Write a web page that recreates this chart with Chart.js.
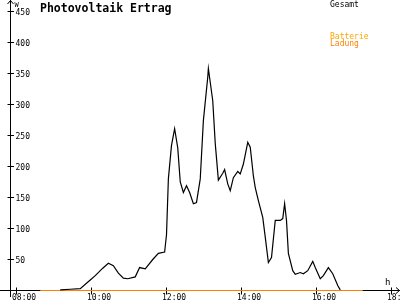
<!DOCTYPE html>
<html>
<head>
<meta charset="utf-8">
<script src="https://cdn.jsdelivr.net/npm/chart.js@4"></script>
<style>
html,body{margin:0;padding:0;background:#fff;}
#wrap{width:400px;height:300px;position:relative;}
</style>
</head>
<body>
<div id="wrap"><canvas id="c" width="400" height="300"></canvas></div>
<script>
// ---- data ----
const chartTitle = "Photovoltaik Ertrag";
const gesamtLabel = "Gesamt";
const ladungLabel = ["Batterie", "Ladung"];
const xUnit = "h";
const yUnit = "W";

const gesamtTimes = ["09:10","09:26","09:42","09:58","10:06","10:18","10:27","10:35","10:43","10:51","10:58","11:10","11:17","11:26","11:38","11:47","11:57","12:00","12:03","12:08","12:13","12:18","12:22","12:27","12:32","12:37","12:43","12:48","12:54","12:59","13:06","13:07","13:14","13:18","13:23","13:30","13:33","13:38","13:42","13:47","13:54","13:58","14:03","14:10","14:14","14:19","14:22","14:27","14:34","14:38","14:43","14:48","14:54","15:02","15:06","15:09","15:12","15:15","15:22","15:26","15:34","15:39","15:46","15:54","15:58","16:06","16:11","16:19","16:26","16:34","16:38"];
const gesamtValues = [1,2,3,17,24,36,44,40,28,20,19,22,37,35,50,60,62,90,180,234,261,230,175,158,169,158,140,142,180,274,344,358,306,237,178,189,195,172,161,182,192,188,204,239,231,185,166,145,118,86,45,53,113,113,116,140,113,60,32,26,29,27,32,47,37,19,24,37,27,8,1];

const ladungTimes = ["08:38","17:14"];
const ladungValues = [0,0];

const xTickLabels = ["08:00","10:00","12:00","14:00","16:00","18:00"];
const yTickLabels = [50,100,150,200,250,300,350,400,450];

// ---- helpers ----
function toMin(t){ const p=t.split(":"); return (+p[0])*60 + (+p[1]); }
const gesamtData = gesamtTimes.map((t,i)=>({x:toMin(t), y:gesamtValues[i]}));
const ladungData = ladungTimes.map((t,i)=>({x:toMin(t), y:ladungValues[i]}));

const MONO = '"DejaVu Sans Mono", "Liberation Mono", monospace';

const axesPlugin = {
  id: 'pvAxes',
  beforeDatasetsDraw(chart){
    const ctx = chart.ctx;
    const xs = chart.scales.x, ys = chart.scales.y;
    const ax = Math.round(xs.getPixelForValue(470)) + 0.5;  // y-axis position (07:50)
    const ay = Math.round(ys.getPixelForValue(0) - 0.5) + 0.5;
    ctx.save();
    ctx.strokeStyle = '#000';
    ctx.lineWidth = 1;
    ctx.beginPath();
    // y axis
    ctx.moveTo(ax, 0); ctx.lineTo(ax, 297);
    // arrow top
    ctx.moveTo(ax-3, 4); ctx.lineTo(ax, 0.5); ctx.lineTo(ax+3, 4);
    // x axis
    ctx.moveTo(0, ay); ctx.lineTo(400, ay);
    ctx.moveTo(396, ay-3); ctx.lineTo(399.5, ay); ctx.lineTo(396, ay+3);
    ctx.stroke();

    ctx.fillStyle = '#000';
    ctx.font = '8px ' + MONO;
    // y ticks
    ctx.textBaseline = 'middle';
    ctx.textAlign = 'left';
    yTickLabels.forEach(v=>{
      const py = Math.round(ys.getPixelForValue(v) - 0.5) + 0.5;
      ctx.beginPath(); ctx.moveTo(ax-3, py); ctx.lineTo(ax+3.5, py); ctx.stroke();
      ctx.fillText(String(v), ax+5, py+1);
    });
    // x ticks
    ctx.textBaseline = 'alphabetic';
    xTickLabels.forEach(l=>{
      const px = Math.round(xs.getPixelForValue(toMin(l)) - 0.5) + 0.5;
      ctx.beginPath(); ctx.moveTo(px, ay-3); ctx.lineTo(px, ay+4); ctx.stroke();
      ctx.fillText(l, px-4.5, 299.5);
    });
    // units
    ctx.font = '7px ' + MONO;
    ctx.fillText(yUnit, ax+4, 6.5);
    ctx.font = '9px ' + MONO;
    ctx.fillText(xUnit, 385, 285);
    ctx.restore();
  },
  afterDraw(chart){
    const ctx = chart.ctx;
    ctx.save();
    ctx.textAlign = 'left';
    ctx.textBaseline = 'alphabetic';
    ctx.fillStyle = '#000';
    ctx.font = 'bold 11.5px ' + MONO;
    ctx.fillText(chartTitle, 40, 11.5);
    ctx.font = '8px ' + MONO;
    ctx.fillText(gesamtLabel, 330, 7);
    ctx.fillStyle = '#ffa500';
    ctx.fillText(ladungLabel[0], 330, 38.5);
    ctx.fillStyle = '#ff8000';
    ctx.fillText(ladungLabel[1], 330, 45.5);
    ctx.restore();
  }
};

new Chart(document.getElementById('c'), {
  type: 'line',
  data: {
    datasets: [
      { label: ladungLabel.join(' '), data: ladungData, borderColor: '#ff8000', borderWidth: 1.2,
        pointRadius: 0, tension: 0, fill: false, order: 2 },
      { label: gesamtLabel, data: gesamtData, borderColor: '#000', borderWidth: 1.2,
        pointRadius: 0, tension: 0, fill: false, order: 1 }
    ]
  },
  options: {
    responsive: false,
    animation: false,
    events: [],
    layout: { padding: 0 },
    plugins: { legend: { display: false }, title: { display: false }, tooltip: { enabled: false } },
    scales: {
      x: { type: 'linear', display: false, min: 453.6, max: 1093.6 },
      y: { type: 'linear', display: false, min: -15.32, max: 468.55 }
    }
  },
  plugins: [axesPlugin]
});
</script>
</body>
</html>
